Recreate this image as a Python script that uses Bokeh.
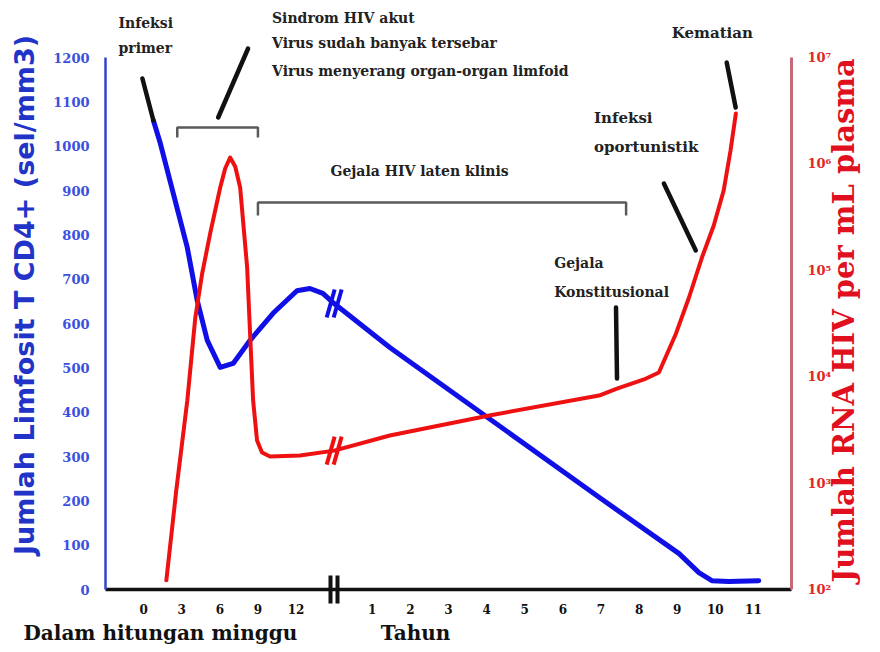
import math
from bokeh.plotting import figure
from bokeh.models import (Range1d, LogScale, LinearAxis, LogAxis, FixedTicker,
                          Label, Arrow)
from bokeh.embed import file_html
from bokeh.resources import INLINE

# ---------------- data ----------------
week_ticks = [0, 3, 6, 9, 12]
year_ticks = [1, 2, 3, 4, 5, 6, 7, 8, 9, 10, 11]
cd4_ticks = [0, 100, 200, 300, 400, 500, 600, 700, 800, 900, 1000, 1100, 1200]
rna_ticks = [1e2, 1e3, 1e4, 1e5, 1e6, 1e7]
rna_tick_labels = ["10\u00b2", "10\u00b3", "10\u2074", "10\u2075", "10\u2076", "10\u2077"]

# CD4+ count (cells/mm3): first weeks, then years
cd4_weeks = [0.77, 1.32, 2.34, 3.44, 4.22, 5.01, 6.03, 7.05, 8.38, 10.19, 12.07, 13.09, 14.11, 15.0]
cd4_weeks_vals = [1058, 1006, 893, 771, 652, 562, 501, 510, 562, 623, 674, 679, 668, 645]
cd4_years = [0.0, 1.46, 6.95, 9.05, 9.57, 9.91, 10.35, 11.14]
cd4_years_vals = [645, 546, 208, 81, 38, 20, 18, 20]

# HIV RNA copies per mL plasma: first weeks, then years
rna_weeks = [1.79, 2.57, 3.44, 4.07, 4.61, 5.24, 6.03, 6.42, 6.81, 7.21, 7.60, 8.15, 8.38, 8.62, 8.93, 9.32, 9.95, 12.31, 15.0]
rna_weeks_vals = [122, 851, 5970, 36000, 93300, 222000, 600000, 906000, 1148000, 946000,
                  600000, 106000, 25500, 5970, 2510, 1940, 1780, 1820, 2020]
rna_years = [0.0, 1.46, 4.07, 6.95, 7.42, 8.13, 8.52, 8.97, 9.31, 9.65, 9.96, 10.22, 10.40, 10.54]
rna_years_vals = [2020, 2800, 4320, 6650, 7740, 9420, 10940, 25500, 55500, 131800,
                  264000, 562000, 1337000, 2980000]

# phases (brackets)
acute_phase_weeks = (2.65, 9.0)
latent_phase = (9.0, 7.66)  # from week 9 to year 7.66

# ---------------- broken time axis ----------------
WEEKS_PER_UNIT = 3.0
BREAK_POS = 5.0  # axis position of the break (= year 0)


def wpos(w):
    return w / WEEKS_PER_UNIT


def ypos(y):
    return y + BREAK_POS


W, H = 880, 652
FRAME_L, FRAME_R, FRAME_T, FRAME_B = 105, 793, 0, 589
AX_TOP = 57           # screen y of the top of both value axes
X0, X1 = -1.0, 17.0
CD4_MAX = 1200.0
px_x = (FRAME_R - FRAME_L) / (X1 - X0)
px_y = (FRAME_B - AX_TOP) / CD4_MAX
px_dec = (FRAME_B - AX_TOP) / 5.0
Y1 = (FRAME_B - FRAME_T) / px_y
LOG_TOP = 2 + (FRAME_B - FRAME_T) / px_dec


def sx(x):  # screen x -> data u
    return X0 + (x - FRAME_L) / px_x


def sy(y):  # screen y -> data (left axis)
    return (FRAME_B - y) / px_y


p = figure(width=W, height=H, x_range=Range1d(X0, X1), y_range=Range1d(0, Y1),
           output_backend="svg", toolbar_location=None,
           x_axis_type=None, y_axis_type=None,
           min_border_left=FRAME_L, min_border_right=W - FRAME_R,
           min_border_top=FRAME_T, min_border_bottom=H - FRAME_B)
p.outline_line_color = None
p.background_fill_color = "white"
p.border_fill_color = "white"

p.extra_y_ranges = {"rna": Range1d(1e2, 10 ** LOG_TOP)}
p.extra_y_scales = {"rna": LogScale()}

SERIF = "DejaVu Serif"

# ---- axes ----
xt = [wpos(w) for w in week_ticks] + [ypos(y) for y in year_ticks]
xl = [str(w) for w in week_ticks] + [str(y) for y in year_ticks]
gap = 3.5 / px_x
xaxis = LinearAxis(ticker=FixedTicker(ticks=xt, minor_ticks=[BREAK_POS - gap, BREAK_POS + gap]))
xaxis.major_label_overrides = {t: l for t, l in zip(xt, xl)}
xaxis.axis_line_color = "#111111"
xaxis.axis_line_width = 3.5
xaxis.major_tick_line_color = None
xaxis.minor_tick_line_color = "#111111"
xaxis.minor_tick_line_width = 4
xaxis.minor_tick_in = 14
xaxis.minor_tick_out = 14
xaxis.major_label_text_font = SERIF
xaxis.major_label_text_font_style = "bold"
xaxis.major_label_text_font_size = "12px"
xaxis.major_label_text_color = "#111111"
xaxis.major_label_standoff = 0
p.add_layout(xaxis, "below")

# second row under the time axis: unit captions
unit_pos = [sx(160), sx(416)]
unit_text = ["Dalam hitungan minggu", "Tahun"]
uaxis = LinearAxis(ticker=FixedTicker(ticks=unit_pos, minor_ticks=[]))
uaxis.major_label_overrides = {t: l for t, l in zip(unit_pos, unit_text)}
uaxis.axis_line_color = None
uaxis.major_tick_line_color = None
uaxis.minor_tick_line_color = None
uaxis.major_tick_out = 0
uaxis.major_tick_in = 0
uaxis.major_label_text_font = SERIF
uaxis.major_label_text_font_style = "bold"
uaxis.major_label_text_font_size = "20px"
uaxis.major_label_text_color = "#111111"
uaxis.major_label_standoff = 4
p.add_layout(uaxis, "below")

laxis = LinearAxis(ticker=FixedTicker(ticks=cd4_ticks), bounds=(0, CD4_MAX))
laxis.axis_line_color = "#3344cc"
laxis.axis_line_width = 2.5
laxis.major_tick_line_color = None
laxis.minor_tick_line_color = None
laxis.major_label_text_font = SERIF
laxis.major_label_text_font_style = "bold"
laxis.major_label_text_font_size = "13px"
laxis.major_label_text_color = "#3b4fe0"
laxis.major_label_standoff = 10
laxis.axis_label = "Jumlah Limfosit T CD4+ (sel/mm3)"
laxis.axis_label_text_font = "DejaVu Sans"
laxis.axis_label_text_font_style = "bold"
laxis.axis_label_text_font_size = "27px"
laxis.axis_label_text_color = "#2233c8"
laxis.axis_label_standoff = 10
p.add_layout(laxis, "left")

raxis = LogAxis(y_range_name="rna", ticker=FixedTicker(ticks=rna_ticks), bounds=(1e2, 1e7))
raxis.major_label_overrides = {int(t): l for t, l in zip(rna_ticks, rna_tick_labels)}
raxis.axis_line_color = "#c46b7a"
raxis.axis_line_width = 3
raxis.major_tick_line_color = None
raxis.minor_tick_line_color = None
raxis.major_label_text_font = SERIF
raxis.major_label_text_font_style = "bold"
raxis.major_label_text_font_size = "13px"
raxis.major_label_text_color = "#e02828"
raxis.major_label_standoff = 10
p.add_layout(raxis, "right")

# right axis title: written from its lower end upwards
rt_pos = [sy(582)]
raxis_title = LinearAxis(ticker=FixedTicker(ticks=rt_pos, minor_ticks=[]))
raxis_title.major_label_overrides = {rt_pos[0]: "Jumlah RNA HIV per mL plasma"}
raxis_title.major_label_orientation = math.pi / 2
raxis_title.axis_line_color = None
raxis_title.major_tick_line_color = None
raxis_title.minor_tick_line_color = None
raxis_title.major_tick_out = 0
raxis_title.major_tick_in = 0
raxis_title.major_label_text_font = SERIF
raxis_title.major_label_text_font_style = "bold"
raxis_title.major_label_text_font_size = "29px"
raxis_title.major_label_text_color = "#e0101e"
raxis_title.major_label_standoff = 9
p.add_layout(raxis_title, "right")

# ---- curves ----
BLUE = "#1010e6"
RED = "#ee1111"
cd4_x = [wpos(w) for w in cd4_weeks] + [ypos(y) for y in cd4_years[1:]]
cd4_y = cd4_weeks_vals + cd4_years_vals[1:]
p.line(cd4_x, cd4_y, line_color=BLUE, line_width=5, line_join="round", line_cap="round")

rna_x = [wpos(w) for w in rna_weeks] + [ypos(y) for y in rna_years[1:]]
rna_y = rna_weeks_vals + rna_years_vals[1:]
p.line(rna_x, rna_y, line_color=RED, line_width=4, line_join="round", line_cap="round",
       y_range_name="rna")

# ---- break marks on curves ----
bdx = 4 / px_x
bv = cd4_years_vals[0]
dv = 14 / px_y
p.segment(x0=[BREAK_POS - gap - bdx, BREAK_POS + gap - bdx],
          y0=[bv - dv, bv - dv],
          x1=[BREAK_POS - gap + bdx, BREAK_POS + gap + bdx],
          y1=[bv + dv, bv + dv], line_color=BLUE, line_width=4)
rv = rna_years_vals[0]
f = 10 ** (14 / px_dec)
p.segment(x0=[BREAK_POS - gap - bdx, BREAK_POS + gap - bdx],
          y0=[rv / f, rv / f],
          x1=[BREAK_POS - gap + bdx, BREAK_POS + gap + bdx],
          y1=[rv * f, rv * f], line_color=RED, line_width=4, y_range_name="rna")

# ---- brackets ----
GRAY = "#5a5a5a"
b1a, b1b = wpos(acute_phase_weeks[0]), wpos(acute_phase_weeks[1])
yb1 = sy(127)
tk = 10 / px_y
p.line([b1a, b1a, b1b, b1b], [yb1 - tk, yb1, yb1, yb1 - tk], line_color=GRAY, line_width=2.5)
b2a, b2b = wpos(latent_phase[0]), ypos(latent_phase[1])
yb2 = sy(202)
tk2 = 13 / px_y
p.line([b2a, b2a, b2b, b2b], [yb2 - tk2, yb2, yb2, yb2 - tk2], line_color=GRAY, line_width=2.5)

# ---- pointer lines ----
pointers = [((142, 78), None),
            ((218, 117), (248, 48)),
            ((665, 183), (697, 250)),
            ((728, 62), (737, 107)),
            ((617, 307), (618, 378))]
for a, b in pointers:
    xa, ya = sx(a[0]), sy(a[1])
    if b is None:
        xb, yb = cd4_x[0], cd4_y[0]
    else:
        xb, yb = sx(b[0]), sy(b[1])
    p.add_layout(Arrow(end=None, x_start=xa, y_start=ya, x_end=xb, y_end=yb,
                       line_color="#111111", line_width=4.5, line_cap="round"))

# ---- texts ----
def txt(s, x, y, size="14px", align="left", color="#222222", font=SERIF):
    p.add_layout(Label(x=sx(x), y=sy(y), text=s, text_font=font, text_font_style="bold",
                       text_font_size=size, text_color=color, text_align=align,
                       text_baseline="middle"))

txt("Infeksi", 118, 22)
txt("primer", 118, 47)
txt("Sindrom HIV akut", 272, 17)
txt("Virus sudah banyak tersebar", 272, 42)
txt("Virus menyerang organ-organ limfoid", 272, 70)
txt("Gejala HIV laten klinis", 420, 170, align="center")
txt("Infeksi", 595, 117, size="15px")
txt("oportunistik", 595, 146, size="15px")
txt("Kematian", 673, 32, size="15px")
txt("Gejala", 555, 262)
txt("Konstitusional", 555, 291)

open("out.html", "w").write(file_html(p, INLINE))
